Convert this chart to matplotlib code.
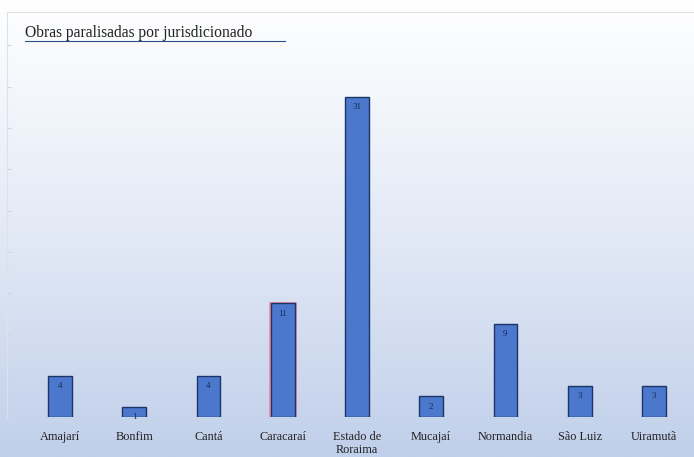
import numpy as np
import matplotlib
matplotlib.use("Agg")
import matplotlib.pyplot as plt
from matplotlib.colors import LinearSegmentedColormap

categories = ["Amajarí", "Bonfim", "Cantá", "Caracaraí", "Estado de\nRoraima",
              "Mucajaí", "Normandia", "São Luiz", "Uiramutã"]
values = [4, 1, 4, 11, 31, 2, 9, 3, 3]
title = "Obras paralisadas por jurisdicionado"

W, H = 694, 457
fig = plt.figure(figsize=(W / 100, H / 100), dpi=100)

# gradient background
bg = fig.add_axes([0, 0, 1, 1], zorder=0)
cmap = LinearSegmentedColormap.from_list("bg", ["#ffffff", "#e3eaf6", "#c0cfea"])
grad = np.linspace(0, 1, 256).reshape(-1, 1)
bg.imshow(grad, aspect="auto", cmap=cmap, extent=[0, 1, 0, 1], origin="upper")
bg.axis("off")

ax = fig.add_axes([7 / W, 40 / H, 687 / W, 405 / H], zorder=1)
ax.patch.set_alpha(0)
x = np.arange(len(categories))
# selection glow behind Caracaraí
ax.bar(x[3], values[3], width=0.34, color="none", edgecolor="#e88aa6", linewidth=2.0, zorder=2)
bars = ax.bar(x, values, width=0.32, color="#4b77cc", edgecolor="#1c3566", linewidth=1.0, zorder=3)

for xi, v in zip(x, values):
    ax.text(xi, v - 0.6, str(v), ha="center", va="top", fontsize=6.5,
            color="#1a2a50", family="Liberation Serif", zorder=4)

ax.set_xlim(-0.713, 8.54)
ax.set_ylim(0, 405 / 10.32)
ax.set_xticks(x)
ax.set_xticklabels(categories, family="Liberation Serif", fontsize=8.8, color="#222222",
                   linespacing=1.15)
ax.tick_params(axis="x", length=0, pad=10)
ax.set_yticks(np.arange(0, 40, 4))
ax.set_yticklabels([])
ax.tick_params(axis="y", length=3, color="#d0d6e0", direction="in")
for s in ["right", "bottom"]:
    ax.spines[s].set_visible(False)
for s in ["left", "top"]:
    ax.spines[s].set_color("#dde2ea")
    ax.spines[s].set_linewidth(0.8)
ax.axhline(0, color="#c8d2e2", linewidth=0.8, zorder=1)

fig.text(25 / W, 1 - 37 / H, title, family="Liberation Serif", fontsize=11.2,
         color="#222222", ha="left", va="baseline")
fig.add_artist(plt.Line2D([25 / W, 285 / W], [1 - 41 / H, 1 - 41 / H],
                          color="#2e4f8a", linewidth=0.8))

fig.savefig("out.png", dpi=100)
